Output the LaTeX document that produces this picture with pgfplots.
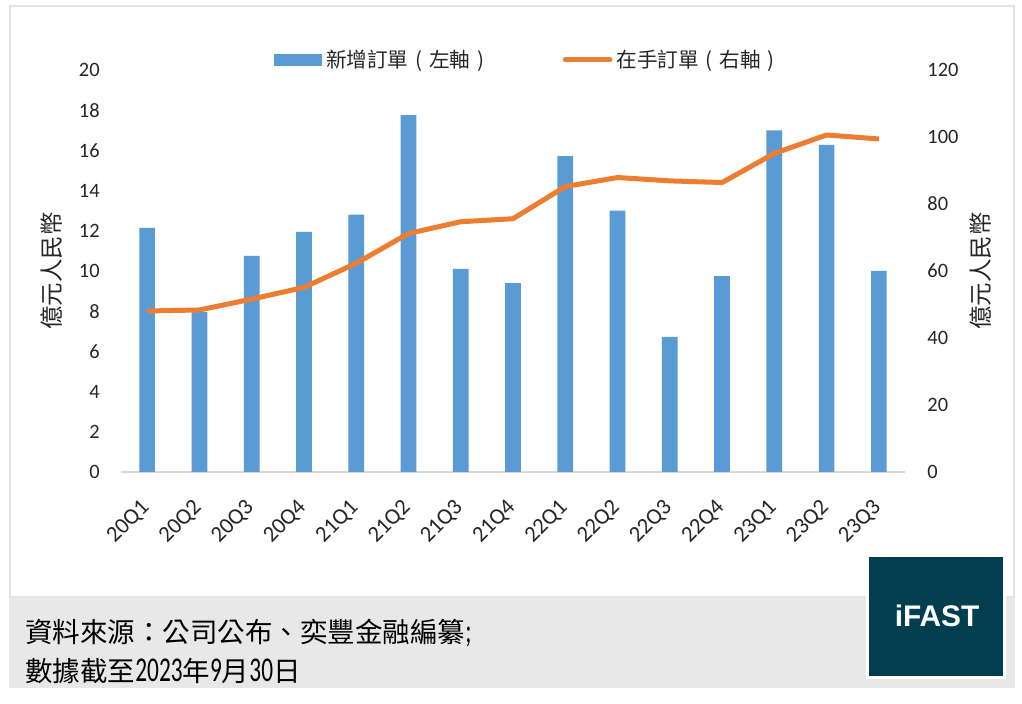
\documentclass[border=0pt]{standalone}
\usepackage{fontspec}
\usepackage{graphicx}
\usepackage{pgfplots}
\pgfplotsset{compat=1.18}
\setmainfont{Carlito}
\newfontfamily\cjk{Noto Sans CJK TC}
\newfontfamily\logofont{Liberation Sans}
\definecolor{barblue}{HTML}{5B9BD5}
\definecolor{lineorange}{HTML}{ED7D31}
\definecolor{txt}{HTML}{262626}
\definecolor{bandgray}{HTML}{E8E8E8}
\definecolor{framegray}{HTML}{E3E3E3}
\definecolor{axisgray}{HTML}{D9D9D9}
\definecolor{logobg}{HTML}{033E50}
\newcommand{\nd}[1]{\scalebox{0.67}[1]{\rmfamily\fontsize{17.4}{18}\selectfont #1}}
\newcommand{\lp}{\makebox[1em][c]{(}}
\newcommand{\rp}{\makebox[1em][c]{)}}
\begin{document}
\begin{tikzpicture}
\path[use as bounding box] (0,0) rectangle (511pt,352pt);
\fill[white] (0,0) rectangle (511pt,352pt);
\draw[framegray, line width=1pt] (5pt,53.5pt) rectangle (507pt,349pt);
\fill[bandgray] (4.5pt,8pt) rectangle (507.5pt,53.5pt);
\begin{axis}[
  at={(60.5pt,116pt)}, anchor=south west,
  scale only axis, width=392pt, height=201pt,
  xmin=-0.5, xmax=14.5, ymin=0, ymax=20,
  xtick={0,...,14},
  xticklabels={20Q1,20Q2,20Q3,20Q4,21Q1,21Q2,21Q3,21Q4,22Q1,22Q2,22Q3,22Q4,23Q1,23Q2,23Q3},
  ytick={0,2,...,20},
  axis x line*=bottom, axis y line*=left,
  x axis line style={draw=axisgray, line width=1pt, -},
  y axis line style={draw=none},
  major tick length=0pt,
  tick label style={font=\fontsize{10.2}{12}\selectfont, text=txt},
  /pgf/number format/assume math mode=true,
  yticklabel style={inner sep=0pt, anchor=east, xshift=-10.5pt},
  xticklabel style={font=\fontsize{11.3}{13}\selectfont, inner sep=0pt, xshift=-0.5pt, yshift=-16pt, rotate=45, anchor=east},
  every axis y label/.style={at={(axis description cs:-0.088,0.5)}, rotate=90, anchor=center},
  ylabel={\cjk\fontsize{11.7}{13}\selectfont 億元人民幣},
  ylabel style={text=txt},
]
\addplot[ybar, bar width=7.85pt, fill=barblue, draw=none] coordinates {
(0,12.15) (1,7.95) (2,10.75) (3,11.95) (4,12.8) (5,17.75) (6,10.1) (7,9.4)
(8,15.72) (9,13.0) (10,6.72) (11,9.75) (12,17.0) (13,16.27) (14,10.0)};
\end{axis}
\begin{axis}[
  at={(60.5pt,116pt)}, anchor=south west,
  scale only axis, width=392pt, height=201pt,
  xmin=-0.5, xmax=14.5, ymin=0, ymax=120,
  ytick={0,20,...,120},
  axis x line=none, axis y line*=right,
  y axis line style={draw=none},
  major tick length=0pt,
  tick label style={font=\fontsize{10.2}{12}\selectfont, text=txt},
  /pgf/number format/assume math mode=true,
  yticklabel style={inner sep=0pt, anchor=west, xshift=11pt},
  every axis y label/.style={at={(axis description cs:1.096,0.5)}, rotate=90, anchor=center},
  ylabel={\cjk\fontsize{11.7}{13}\selectfont 億元人民幣},
  ylabel style={text=txt},
  legend columns=2,
  legend style={draw=none, fill=none, inner sep=0pt, at={(axis description cs:0.195,1.025)}, anchor=west,
    font=\cjk\fontsize{10.3}{12}\selectfont, text=txt,
    /tikz/every even column/.append style={column sep=34pt}},
]
\addlegendimage{legend image code/.code={\fill[barblue] (0pt,-2.75pt) rectangle (23.5pt,2.75pt);}}
\addlegendentry{新增訂單\lp 左軸\rp}
\addplot[lineorange, line width=2.5pt, line join=round,
  legend image code/.code={\draw[lineorange, line width=2.5pt, line cap=round] (0.6pt,0pt) -- (22.9pt,0pt);}]
 coordinates {
(0,48.06) (1,48.36) (2,51.6) (3,55.1) (4,62.3) (5,71.2) (6,74.7) (7,75.6)
(8,85.2) (9,87.9) (10,86.9) (11,86.4) (12,95.1) (13,100.6) (14,99.4)};
\addlegendentry{在手訂單\lp 右軸\rp}
\end{axis}
\fill[white] (433pt,12.5pt) rectangle (503pt,73.5pt);
\fill[logobg] (434.5pt,14pt) rectangle (501.5pt,73.5pt);
\node[text=white, font=\logofont\bfseries\fontsize{14.9}{16}\selectfont] at (468.5pt,44.25pt) {iFAST};
\node[anchor=base west, inner sep=0pt, text=black, font=\cjk\fontsize{13.75}{16}\selectfont] at (12.5pt,30.5pt) {資料來源：公司公布、奕豐金融編纂\nd{;}};
\node[anchor=base west, inner sep=0pt, text=black, font=\cjk\fontsize{13.75}{16}\selectfont] at (12.5pt,11pt) {數據截至\nd{2023}年\nd{9}月\nd{30}日};
\end{tikzpicture}
\end{document}
